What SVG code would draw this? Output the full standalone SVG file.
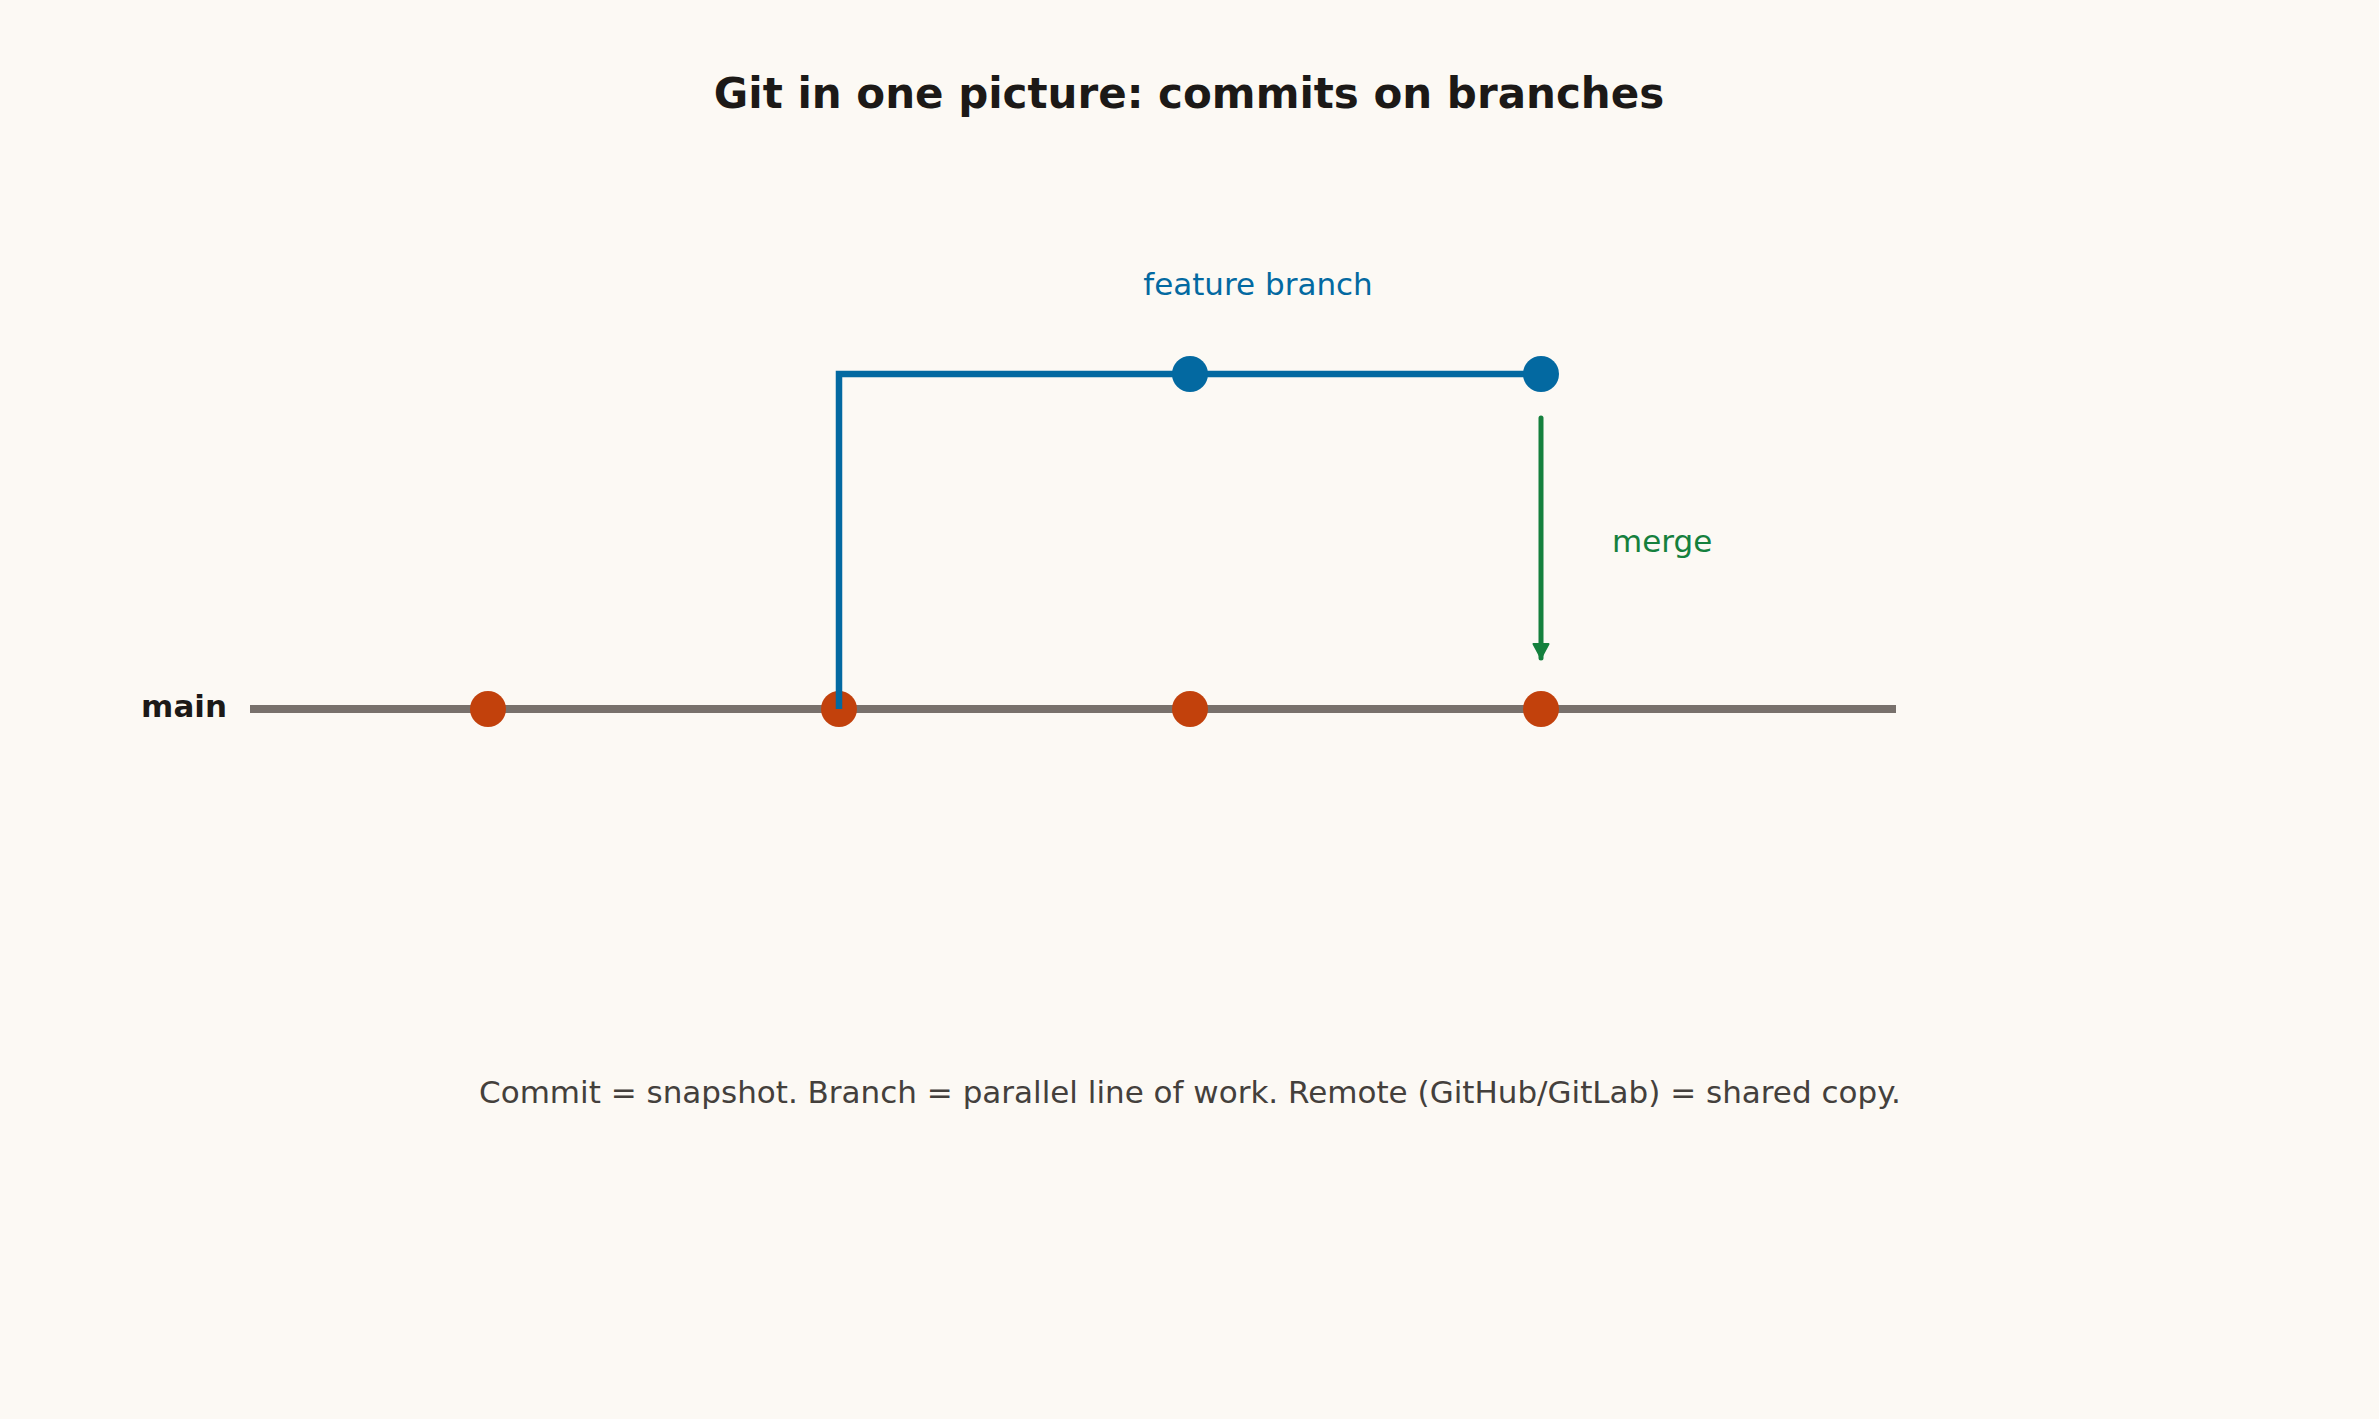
<svg xmlns="http://www.w3.org/2000/svg" width="2379" height="1419" viewBox="0 0 2379 1419">
  <style>
    .title { font-family: "DejaVu Sans", sans-serif; font-weight: bold; font-size: 42px; fill: #1c1917; }
    .lbl { font-family: "DejaVu Sans", sans-serif; font-size: 31px; }
    .main-lbl { font-family: "DejaVu Sans", sans-serif; font-weight: bold; font-size: 31px; fill: #1c1917; }
    .main-c { fill: #c2410c; }
    .feat-c { fill: #0369a1; }
  </style>
  <defs>
    <marker id="arrow" viewBox="0 0 20 20" refX="17" refY="10" markerWidth="20" markerHeight="20" orient="auto" markerUnits="userSpaceOnUse">
      <path d="M3,2.5 L17,10 L3,17.5 Z" fill="#15803d" stroke="#15803d" stroke-width="2" stroke-linejoin="round"/>
    </marker>
  </defs>
  <rect x="0" y="0" width="2379" height="1419" fill="#fcf9f4"/>
  <text class="title" x="1189" y="108" text-anchor="middle">Git in one picture: commits on branches</text>

  <g id="branch-main">
    <line x1="250" y1="709" x2="1896" y2="709" stroke="#78716c" stroke-width="8"/>
  </g>

  <g id="label-main"><text class="main-lbl" x="227" y="717" text-anchor="end">main</text></g>

  <g id="commit-m1"><circle class="main-c" cx="488" cy="709" r="18"/></g>
  <g id="commit-m2"><circle class="main-c" cx="839" cy="709" r="18"/></g>
  <g id="commit-m3"><circle class="main-c" cx="1190" cy="709" r="18"/></g>
  <g id="commit-m4"><circle class="main-c" cx="1541" cy="709" r="18"/></g>

  <g id="connectors">
    <polyline id="feature-line" points="839,709 839,374 1541,374" fill="none" stroke="#0369a1" stroke-width="6.5"/>
    <line id="merge-arrow" x1="1541" y1="418" x2="1541" y2="658" stroke="#15803d" stroke-width="5" stroke-linecap="round" marker-end="url(#arrow)"/>
  </g>

  <g id="commit-f1"><circle class="feat-c" cx="1190" cy="374" r="18"/></g>
  <g id="commit-f2"><circle class="feat-c" cx="1541" cy="374" r="18"/></g>

  <g id="label-feature"><text class="lbl" x="1258" y="295" text-anchor="middle" fill="#0369a1">feature branch</text></g>
  <g id="label-merge"><text class="lbl" x="1612" y="552" fill="#15803d">merge</text></g>

  <g id="footer"><text class="lbl" x="1190" y="1103" text-anchor="middle" fill="#44403c">Commit = snapshot. Branch = parallel line of work. Remote (GitHub/GitLab) = shared copy.</text></g>
</svg>
